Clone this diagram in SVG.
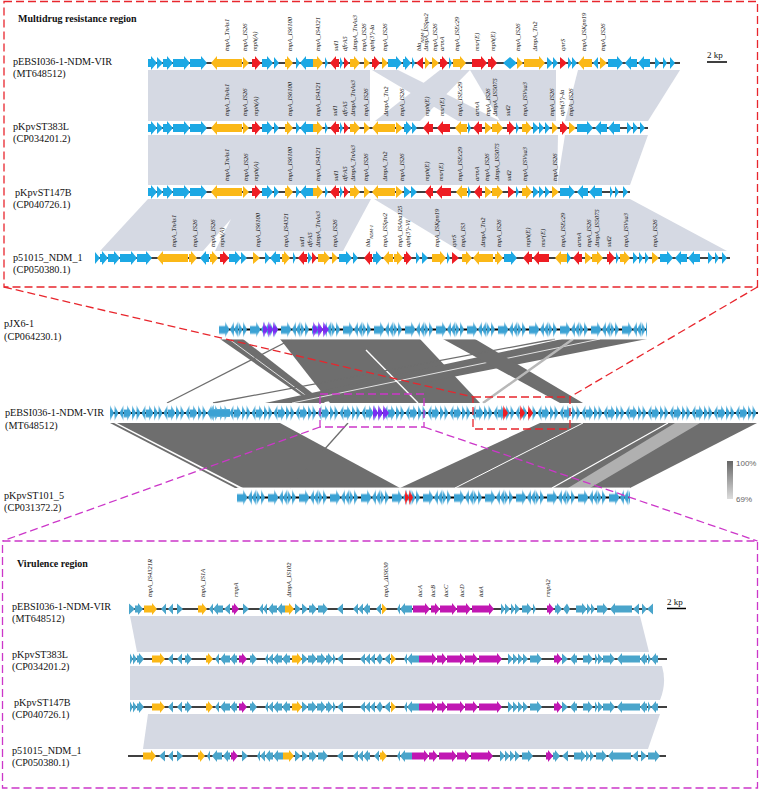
<svg xmlns="http://www.w3.org/2000/svg" width="760" height="791" viewBox="0 0 760 791">
<style>
text{font-family:"Liberation Serif","Times New Roman",serif;fill:#111}
.nm{font-size:10.2px}
.ttl{font-size:10px;font-weight:bold}
.gl{font-size:6.5px;font-style:italic}
.sb{font-size:9px}
.ln{stroke:#000;stroke-width:1.6;fill:none}
.tb{fill:#1ca8e4}.ty{fill:#fbb817}.tr{fill:#ee1d23}
.bb{fill:#4aa5cb}.bm{fill:#c117b3}
.band{fill:#d5d9e3}
.lk{fill:#6e6e6e}
.wl{stroke:#fff;fill:none}
.dr{fill:none;stroke:#e8262d;stroke-width:1.3;stroke-dasharray:8 4}
.dm{fill:none;stroke:#cc37c9;stroke-width:1.3;stroke-dasharray:8 4}
.leg{font-family:"Liberation Sans",Arial,sans-serif;font-size:8px;fill:#666}
</style>
<defs>
<pattern id="pt1" patternUnits="userSpaceOnUse" width="22" height="20"><path fill="#3ba2d4" d="M0 2L4 10 0 18zM4.5 2l4 8-4 8zM13.5 2l-4 8 4 8zM14 6.5h3V2l4.5 8-4.5 8v-3.5h-3z"/></pattern>
<pattern id="pt2" patternUnits="userSpaceOnUse" width="31" height="20"><path fill="#3ba2d4" d="M0 6.5h6V2l4.5 8-4.5 8v-3.5H0zM15 2l-4 8 4 8zM19 2l-4 8 4 8zM19.5 2l4 8-4 8zM24 2l4 8-4 8z"/></pattern>
<linearGradient id="fade" x1="0" y1="0" x2="0" y2="1"><stop offset="0" stop-color="#fff" stop-opacity=".85"/><stop offset=".38" stop-color="#fff" stop-opacity="0"/><stop offset=".62" stop-color="#fff" stop-opacity="0"/><stop offset="1" stop-color="#fff" stop-opacity=".85"/></linearGradient>
<linearGradient id="leg" x1="0" y1="0" x2="0" y2="1"><stop offset="0" stop-color="#666"/><stop offset="1" stop-color="#ddd"/></linearGradient>
<g id="mdrCommon">
<path class="tb" d="M148 -4h3v-3l6 7-6 7v-3h-3zM157 -6l6 6-6 6zM163 -4h4v-3l6 7-6 7v-3h-4zM173 -4h11v-3l6 7-6 7v-3h-11zM190 -4h11v-3l6 7-6 7v-3h-11zM262 -4h5v-3l6 7-6 7v-3h-5zM274 -6l5 6-5 6zM296 -6l4 6-4 6zM313 -4h-7v-3l-6 7 6 7v-3h7zM325 -6l3 6-3 6zM340 -6l3 6-3 6z"/>
<path class="ty" d="M242 -4h-25v-3l-6 7 6 7v-3h25zM243 -6l6 6-6 6zM285 -4h2v-3l6 7-6 7v-3h-2zM313 -4h4v-3l6 7-6 7v-3h-4zM350 -4h4v-3l6 7-6 7v-3h-4zM364 -6l6 6-6 6z"/>
<path class="tr" d="M252 -4h3v-3l6 7-6 7v-3h-3zM339 -4h-3v-3l-6 7 6 7v-3h3zM344 -6l5 6-5 6z"/>
</g>
<g id="virMid">
<path class="bb" d="M130 -5.5l3 5.5-3 5.5zM133 -5.5l4 5.5-4 5.5zM137 -3.5h2v-2.5l5 6-5 6v-2.5h-2zM173 -5.5l-5 5.5 5 5.5zM182 -5.5l-5 5.5 5 5.5zM185 -3.5h2v-2.5l5 6-5 6v-2.5h-2zM219 -5.5l-4 5.5 4 5.5zM230 -3.5h-5v-2.5l-5 6 5 6v-2.5h5zM237 -3.5h-2v-2.5l-5 6 5 6v-2.5h2zM250 -3.5h2v-2.5l5 6-5 6v-2.5h-2zM268 -5.5l-3 5.5 3 5.5zM273 -5.5l-5 5.5 5 5.5zM282 -3.5h-4v-2.5l-5 6 5 6v-2.5h4zM290 -3.5h-3v-2.5l-5 6 5 6v-2.5h3zM302 -5.5l6 5.5-6 5.5zM308 -3.5h4v-2.5l5 6-5 6v-2.5h-4zM317 -3.5h4v-2.5l5 6-5 6v-2.5h-4zM326 -3.5h2v-2.5l5 6-5 6v-2.5h-2zM333 -5.5l3 5.5-3 5.5zM343 -5.5l-6 5.5 6 5.5zM365 -5.5l-5 5.5 5 5.5zM370 -5.5l-5 5.5 5 5.5zM375 -5.5l-5 5.5 5 5.5zM380 -5.5l-4 5.5 4 5.5zM380 -5.5l3 5.5-3 5.5zM390 -5.5l-6 5.5 6 5.5zM407 -5.5l-3 5.5 3 5.5zM419 -3.5h-7v-2.5l-5 6 5 6v-2.5h7zM508 -5.5l5 5.5-5 5.5zM513 -5.5l5 5.5-5 5.5zM518 -5.5l5 5.5-5 5.5zM523 -5.5l5 5.5-5 5.5zM530 -3.5h7v-2.5l5 6-5 6v-2.5h-7zM562 -5.5l6 5.5-6 5.5zM577 -3.5h-2v-2.5l-5 6 5 6v-2.5h2zM583 -3.5h5v-2.5l5 6-5 6v-2.5h-5zM595 -5.5l3 5.5-3 5.5zM598 -5.5l5 5.5-5 5.5zM603 -3.5h7v-2.5l5 6-5 6v-2.5h-7zM640 -3.5h-18v-2.5l-5 6 5 6v-2.5h18zM647 -3.5h-2v-2.5l-5 6 5 6v-2.5h2zM648 -5.5l3 5.5-3 5.5zM658 -3.5h-2v-2.5l-5 6 5 6v-2.5h2z"/>
<path class="ty" d="M152 -3.5h8v-2.5l5 6-5 6v-2.5h-8zM206 -3.5h2v-2.5l5 6-5 6v-2.5h-2zM292 -3.5h5v-2.5l5 6-5 6v-2.5h-5zM391 -5.5l5 5.5-5 5.5z"/>
<path class="bm" d="M239 -3.5h3v-2.5l5 6-5 6v-2.5h-3zM419 -3.5h13v-2.5l5 6-5 6v-2.5h-13zM437 -3.5h5v-2.5l5 6-5 6v-2.5h-5zM447 -3.5h13v-2.5l5 6-5 6v-2.5h-13zM465 -3.5h8v-2.5l5 6-5 6v-2.5h-8zM479 -3.5h18v-2.5l5 6-5 6v-2.5h-18zM554 -3.5h3v-2.5l5 6-5 6v-2.5h-3z"/>
</g>
</defs>

<!-- ===== Multidrug resistance region ===== -->
<g id="mdr-links">
<polygon class="band" points="148,70 370,70 370,121 148,121"/>
<polygon class="band" points="372,70 398,70 500,121 458,121"/>
<polygon class="band" points="440,70 470,70 420,121 375,121"/>
<polygon class="band" points="470,70 556,70 556,121 500,121"/>
<polygon class="band" points="578,70 680,70 648,121 565,121"/>
<polygon class="band" points="148,135 558,135 557,185 148,185"/>
<polygon class="band" points="565,135 648,135 630,185 557,185"/>
<polygon class="band" points="148,199 371,199 343,251 100,251"/>
<polygon class="band" points="374,199 630,199 727,251 460,251"/>
<polygon fill="#fff" points="203,251 231,219 215,251"/>
</g>
<text class="ttl" x="18" y="22">Multidrug resistance region</text>

<g id="mdr-pEBSI">
<text class="nm" x="13" y="65">pEBSI036-1-NDM-VIR</text><text class="nm" x="13" y="77">(MT648512)</text>
<line class="ln" x1="148" y1="63" x2="680" y2="63"/>
<use href="#mdrCommon" y="63"/>
<g transform="translate(0,63)">
<path class="tb" d="M388 -4h8v-3l6 7-6 7v-3h-8zM403 -4h2v-3l6 7-6 7v-3h-2zM412 -6l3 6-3 6zM449 -6l3 6-3 6zM510 -6l-7 6 7 6zM510 -6l7 6-7 6zM547 -6l6 6-6 6zM553 -6l5 6-5 6zM568 -6l4 6-4 6zM572 -6l5 6-5 6zM598 -6l-5 6 5 6zM608 -4h9v-3l6 7-6 7v-3h-9zM637 -4h-6v-3l-6 7 6 7v-3h6zM650 -4h-6v-3l-6 7 6 7v-3h6zM655 -6l5 6-5 6zM663 -6l4 6-4 6zM670 -6l5 6-5 6z"/>
<path class="ty" d="M382 -6l6 6-6 6zM425 -6l5 6-5 6zM432 -6l7 6-7 6zM453 -4h7v-3l6 7-6 7v-3h-7zM517 -6l6 6-6 6zM524 -4h15v-3l6 7-6 7v-3h-15zM592 -4h-8v-3l-6 7 6 7v-3h8zM600 -6l7 6-7 6z"/>
<path class="tr" d="M372 -4h2v-3l6 7-6 7v-3h-2zM423 -6l-7 6 7 6zM440 -4h2v-3l6 7-6 7v-3h-2zM472 -4h9v-3l6 7-6 7v-3h-9zM488 -4h3v-3l6 7-6 7v-3h-3zM560 -6l7 6-7 6z"/>
</g>
<g class="gl" transform="translate(0,51)">
<text transform="translate(229) rotate(-90)">tnpA_TnAs1</text>
<text transform="translate(247) rotate(-90)">tnpA_IS26</text>
<text transform="translate(257) rotate(-90)">mph(A)</text>
<text transform="translate(292) rotate(-90)">tnpA_IS6100</text>
<text transform="translate(320) rotate(-90)">tnpA_IS4321</text>
<text transform="translate(338) rotate(-90)">sul1</text>
<text transform="translate(347) rotate(-90)">dfrA5</text>
<text transform="translate(357) rotate(-90)">ΔtnpA_TnAs3</text>
<text transform="translate(366) rotate(-90)">tnpA_IS26</text>
<text transform="translate(374) rotate(-90)">aph(3')-Ia</text>
<text transform="translate(387) rotate(-90)">tnpA_IS26</text>
<text transform="translate(421) rotate(-90)">bla<tspan font-size="4.5" baseline-shift="sub">NDM-1</tspan></text>
<text transform="translate(428) rotate(-90)">ΔtnpA_ISSpu2</text>
<text transform="translate(437) rotate(-90)">tnpA_IS26</text>
<text transform="translate(444) rotate(-90)">armA</text>
<text transform="translate(459) rotate(-90)">tnpA_ISEc29</text>
<text transform="translate(479) rotate(-90)">msr(E)</text>
<text transform="translate(495) rotate(-90)">mph(E)</text>
<text transform="translate(520) rotate(-90)">tnpA_IS26</text>
<text transform="translate(537) rotate(-90)">ΔtnpA_Tn2</text>
<text transform="translate(565) rotate(-90)">qnrS</text>
<text transform="translate(586) rotate(-90)">tnpA_ISKpn19</text>
<text transform="translate(605) rotate(-90)">tnpA_IS26</text>
</g>
<line x1="707" y1="62" x2="727" y2="62" stroke="#000" stroke-width="1.5"/>
<text class="sb" x="707" y="58">2 kp</text>
</g>

<g id="mdr-pKpvST383L">
<text class="nm" x="13" y="130">pKpvST383L</text><text class="nm" x="13" y="142">(CP034201.2)</text>
<line class="ln" x1="148" y1="128" x2="648" y2="128"/>
<use href="#mdrCommon" y="128"/>
<g transform="translate(0,128)">
<path class="tb" d="M404 -4h2v-3l6 7-6 7v-3h-2zM412 -6l5 6-5 6zM468 -6l3 6-3 6zM516 -6l3 6-3 6zM533 -6l6 6-6 6zM539 -6l5 6-5 6zM545 -6l5 6-5 6zM577 -4h10v-3l6 7-6 7v-3h-10zM607 -4h-6v-3l-6 7 6 7v-3h6zM620 -4h-6v-3l-6 7 6 7v-3h6zM627 -6l5 6-5 6zM633 -6l5 6-5 6zM640 -6l5 6-5 6z"/>
<path class="ty" d="M395 -4h-17v-3l-6 7 6 7v-3h17zM396 -6l7 6-7 6zM467 -4h-6v-3l-6 7 6 7v-3h6zM485 -6l7 6-7 6zM492 -4h5v-3l6 7-6 7v-3h-5zM522 -4h4v-3l6 7-6 7v-3h-4zM552 -6l6 6-6 6zM569 -6l7 6-7 6z"/>
<path class="tr" d="M433 -4h-4v-3l-6 7 6 7v-3h4zM450 -4h-7v-3l-6 7 6 7v-3h7zM482 -4h-3v-3l-6 7 6 7v-3h3zM507 -4h2v-3l6 7-6 7v-3h-2zM560 -4h2v-3l6 7-6 7v-3h-2z"/>
</g>
<g class="gl" transform="translate(0,116)">
<text transform="translate(229) rotate(-90)">tnpA_TnAs1</text>
<text transform="translate(247) rotate(-90)">tnpA_IS26</text>
<text transform="translate(258) rotate(-90)">mph(A)</text>
<text transform="translate(292) rotate(-90)">tnpA_IS6100</text>
<text transform="translate(320) rotate(-90)">tnpA_IS4321</text>
<text transform="translate(337) rotate(-90)">sul1</text>
<text transform="translate(347) rotate(-90)">dfrA5</text>
<text transform="translate(355) rotate(-90)">ΔtnpA_TnAs3</text>
<text transform="translate(368) rotate(-90)">tnpA_IS26</text>
<text transform="translate(388) rotate(-90)">ΔtnpA_Tn2</text>
<text transform="translate(404) rotate(-90)">tnpA_IS26</text>
<text transform="translate(429) rotate(-90)">mph(E)</text>
<text transform="translate(444) rotate(-90)">msr(E)</text>
<text transform="translate(462) rotate(-90)">tnpA_ISEc29</text>
<text transform="translate(479) rotate(-90)">armA</text>
<text transform="translate(490) rotate(-90)">tnpA_IS26</text>
<text transform="translate(497) rotate(-90)">ΔtnpA_IS5075</text>
<text transform="translate(510) rotate(-90)">sul2</text>
<text transform="translate(527) rotate(-90)">tnpA_ISVsa3</text>
<text transform="translate(554) rotate(-90)">tnpA_IS26</text>
<text transform="translate(564) rotate(-90)">aph(3')-Ia</text>
<text transform="translate(573) rotate(-90)">tnpA_IS26</text>
</g>
</g>

<g id="mdr-pKpvST147B">
<text class="nm" x="15" y="196">pKpvST147B</text><text class="nm" x="13" y="208">(CP040726.1)</text>
<line class="ln" x1="148" y1="192" x2="630" y2="192"/>
<use href="#mdrCommon" y="192"/>
<g transform="translate(0,192)">
<path class="tb" d="M404 -6l7 6-7 6zM411 -6l6 6-6 6zM468 -6l3 6-3 6zM516 -6l3 6-3 6zM533 -6l6 6-6 6zM539 -6l5 6-5 6zM545 -6l5 6-5 6zM560 -4h9v-3l6 7-6 7v-3h-9zM588 -4h-5v-3l-6 7 6 7v-3h5zM602 -4h-7v-3l-6 7 6 7v-3h7zM610 -6l3 6-3 6zM615 -6l4 6-4 6zM623 -6l5 6-5 6z"/>
<path class="ty" d="M395 -4h-17v-3l-6 7 6 7v-3h17zM396 -6l7 6-7 6zM467 -4h-5v-3l-6 7 6 7v-3h5zM485 -6l7 6-7 6zM492 -4h5v-3l6 7-6 7v-3h-5zM522 -4h4v-3l6 7-6 7v-3h-4zM552 -6l7 6-7 6z"/>
<path class="tr" d="M433 -4h-2v-3l-6 7 6 7v-3h2zM451 -4h-9v-3l-6 7 6 7v-3h9zM482 -4h-2v-3l-6 7 6 7v-3h2zM508 -6l7 6-7 6z"/>
</g>
<g class="gl" transform="translate(0,181)">
<text transform="translate(229) rotate(-90)">tnpA_TnAs1</text>
<text transform="translate(248) rotate(-90)">tnpA_IS26</text>
<text transform="translate(258) rotate(-90)">mph(A)</text>
<text transform="translate(292) rotate(-90)">tnpA_IS6100</text>
<text transform="translate(320) rotate(-90)">tnpA_IS4321</text>
<text transform="translate(338) rotate(-90)">sul1</text>
<text transform="translate(347) rotate(-90)">dfrA5</text>
<text transform="translate(355) rotate(-90)">ΔtnpA_TnAs3</text>
<text transform="translate(368) rotate(-90)">tnpA_IS26</text>
<text transform="translate(387) rotate(-90)">ΔtnpA_Tn2</text>
<text transform="translate(404) rotate(-90)">tnpA_IS26</text>
<text transform="translate(429) rotate(-90)">mph(E)</text>
<text transform="translate(443) rotate(-90)">msr(E)</text>
<text transform="translate(462) rotate(-90)">tnpA_ISEc29</text>
<text transform="translate(479) rotate(-90)">armA</text>
<text transform="translate(489) rotate(-90)">tnpA_IS26</text>
<text transform="translate(499) rotate(-90)">ΔtnpA_IS5075</text>
<text transform="translate(511) rotate(-90)">sul2</text>
<text transform="translate(527) rotate(-90)">tnpA_ISVsa3</text>
<text transform="translate(557) rotate(-90)">tnpA_IS26</text>
</g>
</g>

<g id="mdr-p51015">
<text class="nm" x="13" y="261">p51015_NDM_1</text><text class="nm" x="13" y="273">(CP050380.1)</text>
<line class="ln" x1="95" y1="258" x2="730" y2="258"/>
<g transform="translate(0,258)">
<path class="tb" d="M95 -6l5 6-5 6zM100 -4h2v-3l6 7-6 7v-3h-2zM108 -4h6v-3l6 7-6 7v-3h-6zM120 -4h11v-3l6 7-6 7v-3h-11zM137 -4h9v-3l6 7-6 7v-3h-9zM209 -4h-3v-3l-6 7 6 7v-3h3zM229 -4h6v-3l6 7-6 7v-3h-6zM241 -6l6 6-6 6zM265 -6l5 6-5 6zM280 -4h-4v-3l-6 7 6 7v-3h4zM293 -6l3 6-3 6zM308 -6l4 6-4 6zM339 -4h7v-3l6 7-6 7v-3h-7zM353 -6l5 6-5 6zM373 -4h3v-3l6 7-6 7v-3h-3zM416 -6l4 6-4 6zM422 -6l6 6-6 6zM447 -6l3 6-3 6zM504 -4h7v-3l6 7-6 7v-3h-7zM567 -6l4 6-4 6zM616 -6l3 6-3 6zM633 -6l5 6-5 6zM639 -6l4 6-4 6zM645 -6l4 6-4 6zM660 -4h7v-3l6 7-6 7v-3h-7zM687 -4h-6v-3l-6 7 6 7v-3h6zM700 -4h-6v-3l-6 7 6 7v-3h6zM708 -6l5 6-5 6zM715 -6l4 6-4 6zM722 -6l5 6-5 6z"/>
<path class="ty" d="M188 -4h-25v-3l-6 7 6 7v-3h25zM189 -4h2v-3l6 7-6 7v-3h-2zM210 -4h2v-3l6 7-6 7v-3h-2zM253 -6l7 6-7 6zM282 -4h2v-3l6 7-6 7v-3h-2zM318 -4h6v-3l6 7-6 7v-3h-6zM332 -6l6 6-6 6zM393 -4h-4v-3l-6 7 6 7v-3h4zM394 -4h3v-3l6 7-6 7v-3h-3zM432 -4h8v-3l6 7-6 7v-3h-8zM462 -4h4v-3l6 7-6 7v-3h-4zM493 -4h-14v-3l-6 7 6 7v-3h14zM495 -4h2v-3l6 7-6 7v-3h-2zM567 -4h-6v-3l-6 7 6 7v-3h6zM585 -6l7 6-7 6zM592 -4h5v-3l6 7-6 7v-3h-5zM620 -4h4v-3l6 7-6 7v-3h-4zM652 -6l7 6-7 6z"/>
<path class="tr" d="M220 -4h3v-3l6 7-6 7v-3h-3zM307 -4h-3v-3l-6 7 6 7v-3h3zM312 -6l5 6-5 6zM372 -4h-2v-3l-6 7 6 7v-3h2zM404 -4h2v-3l6 7-6 7v-3h-2zM452 -6l7 6-7 6zM532 -4h-3v-3l-6 7 6 7v-3h3zM549 -4h-10v-3l-6 7 6 7v-3h10zM582 -4h-3v-3l-6 7 6 7v-3h3zM607 -4h2v-3l6 7-6 7v-3h-2z"/>
</g>
<g class="gl" transform="translate(0,247)">
<text transform="translate(176) rotate(-90)">tnpA_TnAs1</text>
<text transform="translate(197) rotate(-90)">tnpA_IS26</text>
<text transform="translate(215) rotate(-90)">tnpA_IS26</text>
<text transform="translate(224) rotate(-90)">mph(A)</text>
<text transform="translate(260) rotate(-90)">tnpA_IS6100</text>
<text transform="translate(288) rotate(-90)">tnpA_IS4321</text>
<text transform="translate(304) rotate(-90)">sul1</text>
<text transform="translate(312) rotate(-90)">dfrA5</text>
<text transform="translate(320) rotate(-90)">ΔtnpA_TnAs3</text>
<text transform="translate(337) rotate(-90)">tnpA_IS26</text>
<text transform="translate(370) rotate(-90)">bla<tspan font-size="4.5" baseline-shift="sub">NDM-1</tspan></text>
<text transform="translate(387) rotate(-90)">tnpA_ISSpu2</text>
<text transform="translate(402) rotate(-90)">tnpA_ISAba125</text>
<text transform="translate(410) rotate(-90)">aph(3')-VI</text>
<text transform="translate(439) rotate(-90)">tnpA_ISKpn19</text>
<text transform="translate(456) rotate(-90)">qnrS</text>
<text transform="translate(465) rotate(-90)">tnpA_IS3</text>
<text transform="translate(485) rotate(-90)">ΔtnpA_Tn2</text>
<text transform="translate(501) rotate(-90)">tnpA_IS26</text>
<text transform="translate(530) rotate(-90)">mph(E)</text>
<text transform="translate(545) rotate(-90)">msr(E)</text>
<text transform="translate(565) rotate(-90)">tnpA_ISEc29</text>
<text transform="translate(581) rotate(-90)">armA</text>
<text transform="translate(591) rotate(-90)">tnpA_IS26</text>
<text transform="translate(599) rotate(-90)">ΔtnpA_IS5075</text>
<text transform="translate(611) rotate(-90)">sul2</text>
<text transform="translate(628) rotate(-90)">tnpA_ISVsa3</text>
<text transform="translate(657) rotate(-90)">tnpA_IS26</text>
</g>
</g>

<!-- ===== Whole plasmid comparison ===== -->
<g id="mid-links">
<polygon class="lk" points="220,339 243,339 325,403 312,403"/>
<line class="wl" x1="229" y1="339" x2="316" y2="403" stroke-width=".8"/>
<polygon class="lk" points="280,339 420,339 480,403 330,403"/>
<polygon class="lk" points="562,339 647,339 320,403 265,403"/>
<line class="wl" x1="600" y1="339" x2="292" y2="403" stroke-width=".8"/>
<line class="wl" x1="366" y1="350" x2="418" y2="403" stroke-width="1.4"/>
<polygon class="lk" points="443,339 475,339 583,403 560,403"/>
<line x1="292" y1="339" x2="167" y2="403" stroke="#6e6e6e" stroke-width="1.3"/>
<line x1="555" y1="339" x2="213" y2="403" stroke="#6e6e6e" stroke-width="1.3"/>
<line x1="573" y1="339" x2="483" y2="403" stroke="#b8b8b8" stroke-width="2.5"/>
<polygon class="lk" points="110,423 114,423 239,488 235,488"/>
<polygon class="lk" points="117,423 280,423 400,488 243,488"/>
<line x1="348" y1="423" x2="290" y2="488" stroke="#6e6e6e" stroke-width="1.3"/>
<polygon class="lk" points="540,423 757,423 630,488 400,488"/>
<line class="wl" x1="583" y1="423" x2="455" y2="488" stroke-width="1"/>
<polygon fill="#b0b0b0" points="675,423 700,423 590,488 568,488"/>
<line class="wl" x1="668" y1="423" x2="552" y2="488" stroke-width="1.2"/>
</g>

<g id="mid-pJX6-1">
<text class="nm" x="4" y="327">pJX6-1</text><text class="nm" x="4" y="340">(CP064230.1)</text>
<g transform="translate(219,319.5)">
<line x1="0" y1="10" x2="428" y2="10" stroke="#000" stroke-width="2"/>
<rect width="428" height="20" fill="url(#pt2)"/>
<path fill="#7b2cf2" d="M44 2l5 8-5 8zM49 2l5 8-5 8zM54 2l5 8-5 8zM94 2l5 8-5 8zM99 2l5 8-5 8zM104 2l6 8-6 8z"/>
<rect width="428" height="20" fill="url(#fade)"/>
</g>
</g>

<g id="mid-pEBSI">
<text class="nm" x="5" y="416">pEBSI036-1-NDM-VIR</text><text class="nm" x="5" y="429">(MT648512)</text>
<g transform="translate(110,403)">
<line x1="0" y1="10" x2="648" y2="10" stroke="#000" stroke-width="2"/>
<rect width="648" height="20" fill="url(#pt1)"/>
<path fill="#3ba2d4" d="M120 6h-16V1.5l-7 8.5 7 8.5V14h16z"/>
<path fill="#7b2cf2" d="M263 2l5 8-5 8zM268 2l5 8-5 8zM273 2l6 8-6 8z"/>
<path fill="#ee1d23" d="M393 2l5 8-5 8zM410 2l5 8-5 8zM418 2l5 8-5 8z"/>
<rect width="648" height="20" fill="url(#fade)"/>
</g>
</g>

<g id="mid-pKpvST101">
<text class="nm" x="4" y="499">pKpvST101_5</text><text class="nm" x="4" y="511">(CP031372.2)</text>
<g transform="translate(237,487.5)">
<line x1="0" y1="10" x2="393" y2="10" stroke="#000" stroke-width="2"/>
<rect width="393" height="20" fill="url(#pt2)"/>
<path fill="#ee1d23" d="M168 2l4 8-4 8zM172 2l4 8-4 8z"/>
<rect width="393" height="20" fill="url(#fade)"/>
</g>
</g>

<g id="legend">
<rect x="727" y="461" width="6" height="38" fill="url(#leg)"/>
<text class="leg" x="736" y="466">100%</text>
<text class="leg" x="736" y="502">69%</text>
</g>

<!-- ===== Virulence region ===== -->
<g id="vir-links">
<polygon class="band" points="130,616 640,616 649,652 137,652"/>
<path class="band" d="M130 666H662Q667 683 660 700H130Z"/>
<polygon class="band" points="148,714 660,714 648,749 143,749"/>
</g>
<text class="ttl" x="17" y="567">Virulence region</text>

<g id="vir-pEBSI">
<text class="nm" x="12" y="610">pEBSI036-1-NDM-VIR</text><text class="nm" x="12" y="622">(MT648512)</text>
<line class="ln" x1="129" y1="609" x2="653" y2="609"/>
<g transform="translate(0,609)">
<path class="bb" d="M129 -5.5l6 5.5-6 5.5zM135 -3.5h3v-2.5l5 6-5 6v-2.5h-3zM166 -5.5l-5 5.5 5 5.5zM173 -5.5l-5 5.5 5 5.5zM177 -5.5l6 5.5-6 5.5zM213 -5.5l-4 5.5 4 5.5zM223 -3.5h-5v-2.5l-5 6 5 6v-2.5h5zM230 -5.5l-6 5.5 6 5.5zM243 -5.5l6 5.5-6 5.5zM263 -5.5l-4 5.5 4 5.5zM267 -5.5l-4 5.5 4 5.5zM277 -3.5h-4v-2.5l-5 6 5 6v-2.5h4zM285 -3.5h-3v-2.5l-5 6 5 6v-2.5h3zM295 -5.5l6 5.5-6 5.5zM302 -5.5l6 5.5-6 5.5zM309 -3.5h3v-2.5l5 6-5 6v-2.5h-3zM318 -3.5h5v-2.5l5 6-5 6v-2.5h-5zM343 -5.5l-6 5.5 6 5.5zM358 -5.5l-5 5.5 5 5.5zM363 -5.5l-5 5.5 5 5.5zM370 -3.5h-2v-2.5l-5 6 5 6v-2.5h2zM381 -5.5l-5 5.5 5 5.5zM400 -5.5l-3 5.5 3 5.5zM412 -3.5h-7v-2.5l-5 6 5 6v-2.5h7zM501 -5.5l4 5.5-4 5.5zM505 -5.5l5 5.5-5 5.5zM511 -5.5l4 5.5-4 5.5zM515 -5.5l5 5.5-5 5.5zM522 -3.5h5v-2.5l5 6-5 6v-2.5h-5zM533 -5.5l3 5.5-3 5.5zM555 -3.5h2v-2.5l5 6-5 6v-2.5h-2zM567 -5.5l-4 5.5 4 5.5zM567 -5.5l3 5.5-3 5.5zM576 -3.5h6v-2.5l5 6-5 6v-2.5h-6zM587 -5.5l4 5.5-4 5.5zM591 -5.5l4 5.5-4 5.5zM597 -3.5h6v-2.5l5 6-5 6v-2.5h-6zM632 -3.5h-17v-2.5l-5 6 5 6v-2.5h17zM639 -5.5l-6 5.5 6 5.5zM642 -5.5l5 5.5-5 5.5zM653 -5.5l-6 5.5 6 5.5z"/>
<path class="ty" d="M144 -3.5h8v-2.5l5 6-5 6v-2.5h-8zM198 -3.5h4v-2.5l5 6-5 6v-2.5h-4zM285 -3.5h4v-2.5l5 6-5 6v-2.5h-4zM382 -5.5l5 5.5-5 5.5z"/>
<path class="bm" d="M232 -3.5h2v-2.5l5 6-5 6v-2.5h-2zM413 -3.5h12v-2.5l5 6-5 6v-2.5h-12zM431 -3.5h4v-2.5l5 6-5 6v-2.5h-4zM440 -3.5h12v-2.5l5 6-5 6v-2.5h-12zM457 -3.5h9v-2.5l5 6-5 6v-2.5h-9zM472 -3.5h17v-2.5l5 6-5 6v-2.5h-17zM547 -3.5h2v-2.5l5 6-5 6v-2.5h-2z"/>
</g>
<g class="gl" transform="translate(0,597)">
<text transform="translate(152) rotate(-90)">tnpA_IS4321R</text>
<text transform="translate(205) rotate(-90)">tnpA_IS1A</text>
<text transform="translate(238) rotate(-90)">rmpA</text>
<text transform="translate(291) rotate(-90)">ΔtnpA_IS102</text>
<text transform="translate(388) rotate(-90)">tnpA_ΔIS630</text>
<text transform="translate(422) rotate(-90)">iucA</text>
<text transform="translate(435) rotate(-90)">iucB</text>
<text transform="translate(448) rotate(-90)">iucC</text>
<text transform="translate(464) rotate(-90)">iucD</text>
<text transform="translate(483) rotate(-90)">iutA</text>
<text transform="translate(550) rotate(-90)">rmpA2</text>
</g>
<line x1="667" y1="608.5" x2="686" y2="608.5" stroke="#000" stroke-width="1.5"/>
<text class="sb" x="667" y="605">2 kp</text>
</g>

<g id="vir-pKpvST383L">
<text class="nm" x="12" y="658">pKpvST383L</text><text class="nm" x="12" y="670">(CP034201.2)</text>
<line class="ln" x1="130" y1="659" x2="667" y2="659"/>
<use href="#virMid" y="659"/>
</g>

<g id="vir-pKpvST147B">
<text class="nm" x="14" y="706">pKpvST147B</text><text class="nm" x="12" y="718">(CP040726.1)</text>
<line class="ln" x1="130" y1="707" x2="667" y2="707"/>
<use href="#virMid" y="707"/>
</g>

<g id="vir-p51015">
<text class="nm" x="12" y="754">p51015_NDM_1</text><text class="nm" x="12" y="766">(CP050380.1)</text>
<line class="ln" x1="128" y1="756" x2="666" y2="756"/>
<g transform="translate(0,756)">
<path class="bb" d="M165 -5.5l-6 5.5 6 5.5zM173 -5.5l-5 5.5 5 5.5zM177 -5.5l6 5.5-6 5.5zM210 -5.5l-3 5.5 3 5.5zM222 -3.5h-5v-2.5l-5 6 5 6v-2.5h5zM230 -3.5h-2v-2.5l-5 6 5 6v-2.5h2zM242 -5.5l6 5.5-6 5.5zM260 -5.5l-3 5.5 3 5.5zM265 -5.5l-5 5.5 5 5.5zM273 -3.5h-3v-2.5l-5 6 5 6v-2.5h3zM283 -3.5h-5v-2.5l-5 6 5 6v-2.5h5zM295 -5.5l6 5.5-6 5.5zM302 -5.5l6 5.5-6 5.5zM309 -3.5h3v-2.5l5 6-5 6v-2.5h-3zM318 -3.5h5v-2.5l5 6-5 6v-2.5h-5zM343 -5.5l-6 5.5 6 5.5zM358 -5.5l-5 5.5 5 5.5zM363 -5.5l-5 5.5 5 5.5zM370 -3.5h-2v-2.5l-5 6 5 6v-2.5h2zM379 -5.5l-5 5.5 5 5.5zM400 -5.5l-3 5.5 3 5.5zM412 -3.5h-7v-2.5l-5 6 5 6v-2.5h7zM500 -5.5l5 5.5-5 5.5zM505 -5.5l5 5.5-5 5.5zM510 -5.5l5 5.5-5 5.5zM515 -5.5l5 5.5-5 5.5zM522 -3.5h6v-2.5l5 6-5 6v-2.5h-6zM553 -3.5h2v-2.5l5 6-5 6v-2.5h-2zM568 -5.5l-6 5.5 6 5.5zM574 -3.5h7v-2.5l5 6-5 6v-2.5h-7zM586 -5.5l4 5.5-4 5.5zM590 -5.5l4 5.5-4 5.5zM596 -3.5h6v-2.5l5 6-5 6v-2.5h-6zM631 -3.5h-18v-2.5l-5 6 5 6v-2.5h18zM638 -5.5l-6 5.5 6 5.5zM641 -5.5l6 5.5-6 5.5zM648 -3.5h7v-2.5l5 6-5 6v-2.5h-7z"/>
<path class="ty" d="M143 -3.5h8v-2.5l5 6-5 6v-2.5h-8zM198 -3.5h2v-2.5l5 6-5 6v-2.5h-2zM283 -3.5h6v-2.5l5 6-5 6v-2.5h-6zM380 -3.5h2v-2.5l5 6-5 6v-2.5h-2z"/>
<path class="bm" d="M231 -3.5h2v-2.5l5 6-5 6v-2.5h-2zM412 -3.5h12v-2.5l5 6-5 6v-2.5h-12zM429 -3.5h4v-2.5l5 6-5 6v-2.5h-4zM439 -3.5h13v-2.5l5 6-5 6v-2.5h-13zM457 -3.5h8v-2.5l5 6-5 6v-2.5h-8zM471 -3.5h17v-2.5l5 6-5 6v-2.5h-17zM546 -3.5h2v-2.5l5 6-5 6v-2.5h-2z"/>
</g>
</g>

<!-- ===== Dashed frames and zoom connectors ===== -->
<g id="connectors">
<rect class="dr" x="4" y="1.5" width="753.5" height="285.5"/>
<rect class="dr" x="473" y="397" width="97" height="32"/>
<line class="dr" x1="4" y1="287" x2="473" y2="397"/>
<line class="dr" x1="757.5" y1="287" x2="570" y2="397"/>
<rect class="dm" x="320" y="394" width="104" height="33"/>
<rect class="dm" x="2.5" y="541" width="755" height="247"/>
<line class="dm" x1="320" y1="427" x2="2.5" y2="541"/>
<line class="dm" x1="424" y1="427" x2="757.5" y2="541"/>
</g>
</svg>
